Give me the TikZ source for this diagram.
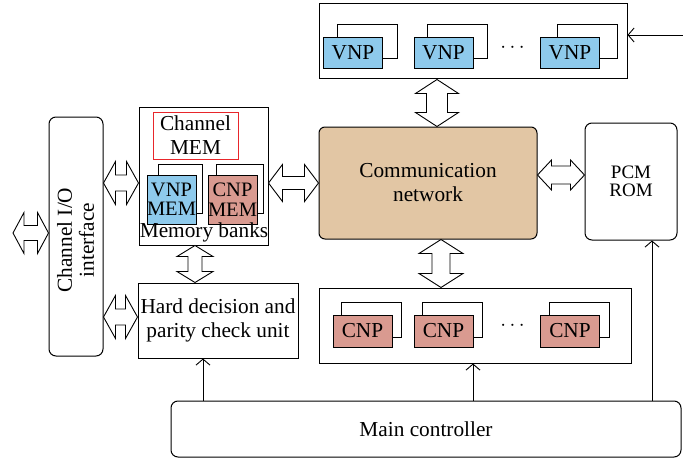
\documentclass[tikz,border=0pt]{standalone}
\usepackage{fontspec}
\setmainfont{Liberation Serif}
\usetikzlibrary{arrows.meta,calc}

\definecolor{vnpblue}{HTML}{8ECAEC}
\definecolor{cnpred}{HTML}{D99A90}
\definecolor{nettan}{HTML}{E2C6A4}
\definecolor{memred}{HTML}{E8262B}

\pgfdeclarelayer{bg}
\pgfsetlayers{bg,main}

% wide two-headed bus arrow, horizontal: left end, right end, head half width, shaft half width, head length
\newcommand\busH[5]{%
  \draw[bus] let \p1=(#1), \p2=(#2) in
    (\x1,\y1) -- (\x1+#5,\y1+#3) -- (\x1+#5,\y1+#4) -- (\x2-#5,\y1+#4) -- (\x2-#5,\y1+#3)
    -- (\x2,\y1) -- (\x2-#5,\y1-#3) -- (\x2-#5,\y1-#4) -- (\x1+#5,\y1-#4) -- (\x1+#5,\y1-#3) -- cycle;}
% the same, vertical: top end, bottom end, head half width, shaft half width, head length
\newcommand\busV[5]{%
  \draw[bus] let \p1=(#1), \p2=(#2) in
    (\x1,\y1) -- (\x1+#3,\y1-#5) -- (\x1+#4,\y1-#5) -- (\x1+#4,\y2+#5) -- (\x1+#3,\y2+#5)
    -- (\x1,\y2) -- (\x1-#3,\y2+#5) -- (\x1-#4,\y2+#5) -- (\x1-#4,\y1-#5) -- (\x1-#3,\y1-#5) -- cycle;}

\tikzset{
  frame/.style={draw, line width=1pt, inner sep=0pt, align=center},
  rbox/.style={frame, rounded corners=7pt},
  unitbox/.style={draw, line width=0.9pt, fill=#1, inner sep=0pt,
                  minimum width=59pt, minimum height=31pt},
  memunit/.style={draw, line width=0.9pt, fill=#1, inner sep=0pt, align=center,
                  minimum height=49pt, font=\fontsize{20.5}{19.5}\selectfont},
  backframe/.style={draw, line width=0.9pt},
  bus/.style={draw, fill=white, line width=0.9pt, line join=miter},
  ctl/.style={draw, line width=0.9pt, -{Straight Barb[length=6pt,width=14pt]}},
}

\begin{document}
\begin{tikzpicture}[x=1pt, y=1pt, font=\fontsize{21.3}{24}\selectfont]
\useasboundingbox (0,0) rectangle (683,459);

% variable node processors
\node[frame, minimum width=308pt, minimum height=75pt] (vnpbank) at (473,417.5) {};
\node[unitbox=vnpblue] (v1) at (353,406.5) {VNP};
\node[unitbox=vnpblue] (v2) at (443.5,406.5) {VNP};
\node[unitbox=vnpblue] (v3) at (570,406.5) {VNP};
\node[anchor=base, inner sep=0pt] (vdots) at (512.5,406.5) {$\cdots$};

% check node processors
\node[frame, minimum width=312pt, minimum height=75pt] (cnpbank) at (475,133.5) {};
\node[unitbox=cnpred, minimum height=32pt] (c1) at (362.5,128) {CNP};
\node[unitbox=cnpred, minimum height=32pt] (c2) at (443.5,128) {CNP};
\node[unitbox=cnpred, minimum height=32pt] (c3) at (570,128) {CNP};
\node[anchor=base, inner sep=0pt] (cdots) at (512.5,128.5) {$\cdots$};

% stacked copies behind each processor and memory
\begin{pgfonlayer}{bg}
  \draw[backframe] ([shift={(14,12)}]v1.north west) rectangle ([shift={(14,10)}]v1.south east);
  \draw[backframe] ([shift={(14,12)}]v2.north west) rectangle ([shift={(14,10)}]v2.south east);
  \draw[backframe] ([shift={(17,12)}]v3.north west) rectangle ([shift={(17,10)}]v3.south east);
  \draw[backframe] ([shift={(9,12)}]c1.north west) rectangle ([shift={(9,10)}]c1.south east);
  \draw[backframe] ([shift={(9,12)}]c2.north west) rectangle ([shift={(9,10)}]c2.south east);
  \draw[backframe] ([shift={(9,12)}]c3.north west) rectangle ([shift={(9,10)}]c3.south east);
\end{pgfonlayer}

% central blocks
\node[rbox, rounded corners=6pt, fill=nettan, minimum width=218pt, minimum height=112pt] (net) at (428,276) {Communication\\network};
\node[rbox, minimum width=92pt, minimum height=117pt, font=\fontsize{19}{18}\selectfont] (pcm) at (631,277.5) {PCM\\ROM};
\node[rbox, minimum width=510pt, minimum height=56pt] (ctrl) at (426,30) {Main controller};

% channel side
\node[rbox, minimum width=54pt, minimum height=239pt] (io) at (76,222.5) {};
\node[rotate=90, align=center, inner sep=0pt, font=\fontsize{21.3}{22}\selectfont] (iolbl) at (75.5,219) {Channel I/O\\interface};

\node[frame, minimum width=129pt, minimum height=138pt] (mem) at (203.5,283) {};
\node[draw=memred, line width=0.8pt, inner sep=0pt, align=center, minimum width=85pt, minimum height=47pt] (chmem) at (195.5,323.5) {Channel\\MEM};
\node[memunit=vnpblue, minimum width=49pt] (vmem) at (171.5,259.5) {VNP\\MEM};
\node[memunit=cnpred, minimum width=47pt] (cmem) at (232.5,259.5) {CNP\\MEM};
\begin{pgfonlayer}{bg}
  \draw[backframe] ([shift={(12,10)}]vmem.north west) rectangle ([shift={(6,11)}]vmem.south east);
  \draw[backframe] ([shift={(9,10)}]cmem.north west) rectangle ([shift={(6,11)}]cmem.south east);
\end{pgfonlayer}
\node[anchor=base, inner sep=0pt] (memlbl) at (204,222) {Memory banks};

\node[frame, minimum width=160pt, minimum height=75pt] (hard) at (218,138.5) {Hard decision and\\parity check unit};

% bus links
\coordinate (ext) at (13,226);
\coordinate (rowA) at (0,276);
\coordinate (rowB) at (0,142);
\coordinate (rowC) at (0,284);
\coordinate (colA) at (195,0);
\coordinate (colB) at (437,0);
\coordinate (colC) at (441,0);
\busH{ext}{io.west |- ext}{20.5pt}{7.5pt}{11pt}
\busH{io.east |- rowA}{mem.west |- rowA}{21.5pt}{8pt}{12pt}
\busH{io.east |- rowB}{hard.west |- rowB}{21.5pt}{8pt}{12pt}
\busH{mem.east |- rowA}{net.west |- rowA}{18.5pt}{6.5pt}{14pt}
\busH{net.east |- rowC}{pcm.west |- rowC}{15pt}{9pt}{14pt}
\busV{mem.south -| colA}{hard.north -| colA}{18pt}{7pt}{11pt}
\busV{vnpbank.south -| colB}{net.north -| colB}{21.5pt}{10.5pt}{14pt}
\busV{net.south -| colC}{cnpbank.north -| colC}{22pt}{9pt}{14pt}

% control lines
\coordinate (feed) at (683,424);
\draw[ctl] (feed) -- (feed -| vnpbank.east);
\coordinate (tapA) at (203,0);
\coordinate (tapB) at (473,0);
\coordinate (tapC) at (652,0);
\draw[ctl] (ctrl.north -| tapA) -- (hard.south -| tapA);
\draw[ctl] (ctrl.north -| tapB) -- (cnpbank.south -| tapB);
\draw[ctl] (ctrl.north -| tapC) -- (pcm.south -| tapC);
\end{tikzpicture}
\end{document}
